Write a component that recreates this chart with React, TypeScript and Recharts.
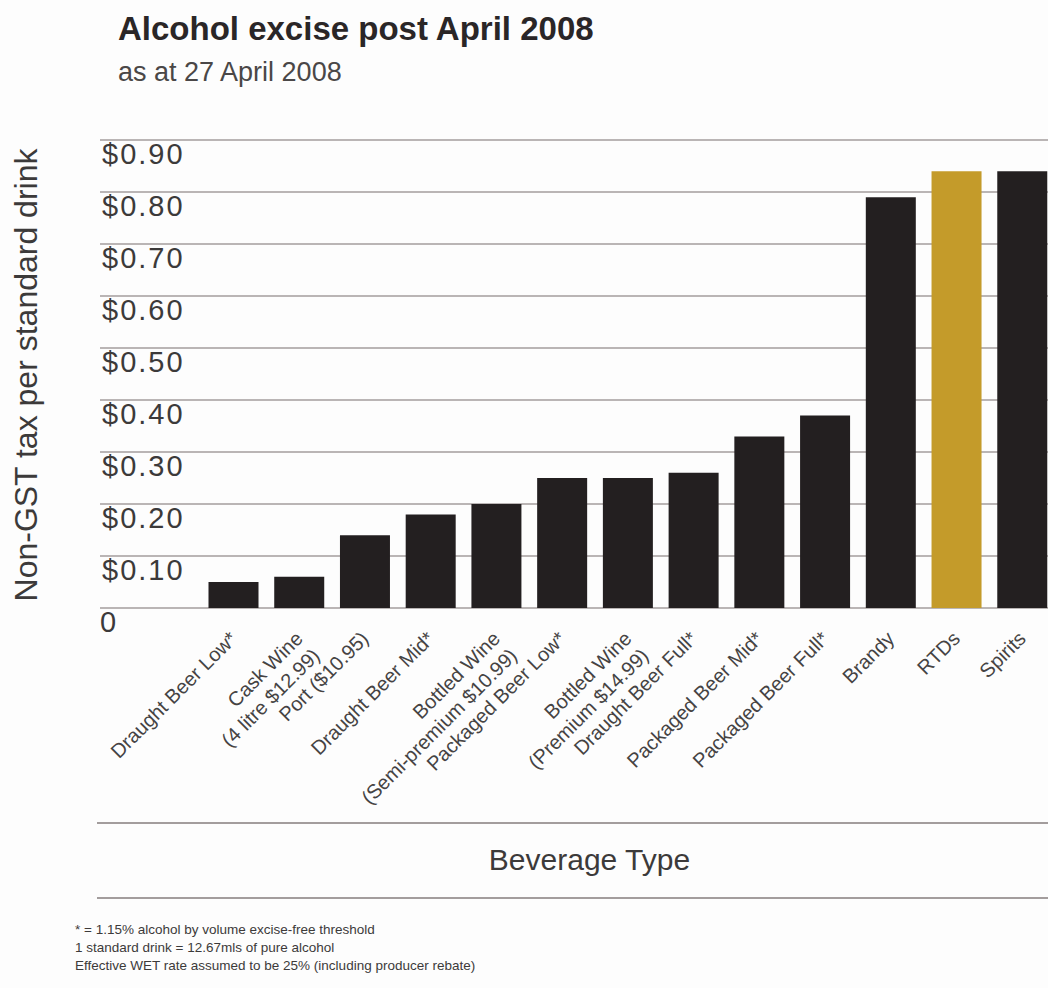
import React from 'react';
import { BarChart, Bar, XAxis, YAxis, CartesianGrid, Cell } from 'recharts';

const categories = [
  'Draught Beer Low*',
  'Cask Wine\n(4 litre $12.99)',
  'Port ($10.95)',
  'Draught Beer Mid*',
  'Bottled Wine\n(Semi-premium $10.99)',
  'Packaged Beer Low*',
  'Bottled Wine\n(Premium $14.99)',
  'Draught Beer Full*',
  'Packaged Beer Mid*',
  'Packaged Beer Full*',
  'Brandy',
  'RTDs',
  'Spirits',
];

const taxPerDrink = [0.05, 0.06, 0.14, 0.18, 0.2, 0.25, 0.25, 0.26, 0.33, 0.37, 0.79, 0.84, 0.84];

const highlighted = 'RTDs';

const yTicks = [0, 0.1, 0.2, 0.3, 0.4, 0.5, 0.6, 0.7, 0.8, 0.9];
const yTickLabels = ['0', '$0.10', '$0.20', '$0.30', '$0.40', '$0.50', '$0.60', '$0.70', '$0.80', '$0.90'];

const footnotes = [
  '* = 1.15% alcohol by volume excise-free threshold',
  '1 standard drink = 12.67mls of pure alcohol',
  'Effective WET rate assumed to be 25% (including producer rebate)',
];

const data = categories.map((name, i) => ({ name, value: taxPerDrink[i] }));

const FONT = '"Liberation Sans", Arial, Helvetica, sans-serif';
const DARK = '#231f20';
const GOLD = '#c49b2a';
const GRID = '#a39d9d';
const TEXT = '#3c3a3a';

const YTick = (props: any) => {
  const { y, payload } = props;
  const idx = yTicks.indexOf(payload.value);
  const label = idx >= 0 ? yTickLabels[idx] : String(payload.value);
  return (
    <text
      x={idx === 0 ? 100 : 102}
      y={y + 24}
      fontSize={29}
      letterSpacing={idx === 0 ? 0 : 2}
      fill={TEXT}
      fontFamily={FONT}
      textAnchor="start"
    >
      {label}
    </text>
  );
};

const XTick = (props: any) => {
  const { x, payload } = props;
  const lines = String(payload.value).split('\n');
  return (
    <g transform={`translate(${x + 5},640) rotate(-45)`}>
      <text textAnchor="end" fontSize={20} fill="#454343" fontFamily={FONT}>
        {lines.map((l, i) => (
          <tspan key={i} x={0} dy={i === 0 ? 0 : 24}>
            {l}
          </tspan>
        ))}
      </text>
    </g>
  );
};

export default function App() {
  return (
    <div
      style={{
        position: 'absolute',
        left: 0,
        top: 0,
        width: 1048,
        height: 988,
        overflow: 'hidden',
        background: '#fdfdfd',
      }}
    >
      <BarChart
        width={1060}
        height={988}
        data={data}
        margin={{ top: 140, right: 5, left: 0, bottom: 0 }}
      >
        <CartesianGrid vertical={false} stroke={GRID} strokeWidth={1.6} />
        <XAxis
          dataKey="name"
          type="category"
          height={380}
          axisLine={false}
          tickLine={false}
          interval={0}
          padding={{ left: 100.5, right: 0 }}
          tick={<XTick />}
        />
        <YAxis
          width={100}
          domain={[0, 0.9]}
          ticks={yTicks}
          interval={0}
          axisLine={false}
          tickLine={false}
          tick={<YTick />}
        />
        <Bar dataKey="value" barSize={50} isAnimationActive={false}>
          {data.map((d) => (
            <Cell key={d.name} fill={d.name === highlighted ? GOLD : DARK} />
          ))}
        </Bar>
      </BarChart>
      <svg
        width={1048}
        height={988}
        style={{ position: 'absolute', left: 0, top: 0, pointerEvents: 'none' }}
      >
        <text x={118} y={40} fontSize={33} fontWeight={700} fill="#2a2627" fontFamily={FONT}>
          Alcohol excise post April 2008
        </text>
        <text x={118} y={81} fontSize={27} fill="#4a4747" fontFamily={FONT}>
          as at 27 April 2008
        </text>
        <text
          transform="translate(37,375) rotate(-90)"
          textAnchor="middle"
          fontSize={32}
          fill={TEXT}
          fontFamily={FONT}
        >
          Non-GST tax per standard drink
        </text>
        <line x1={97} x2={1048} y1={823} y2={823} stroke={GRID} strokeWidth={2} />
        <line x1={97} x2={1048} y1={898} y2={898} stroke={GRID} strokeWidth={2} />
        <text x={589.5} y={870} textAnchor="middle" fontSize={30} fill={TEXT} fontFamily={FONT}>
          Beverage Type
        </text>
        {footnotes.map((t, i) => (
          <text key={i} x={75} y={934 + i * 18} fontSize={13.5} fill={TEXT} fontFamily={FONT}>
            {t}
          </text>
        ))}
      </svg>
    </div>
  );
}
